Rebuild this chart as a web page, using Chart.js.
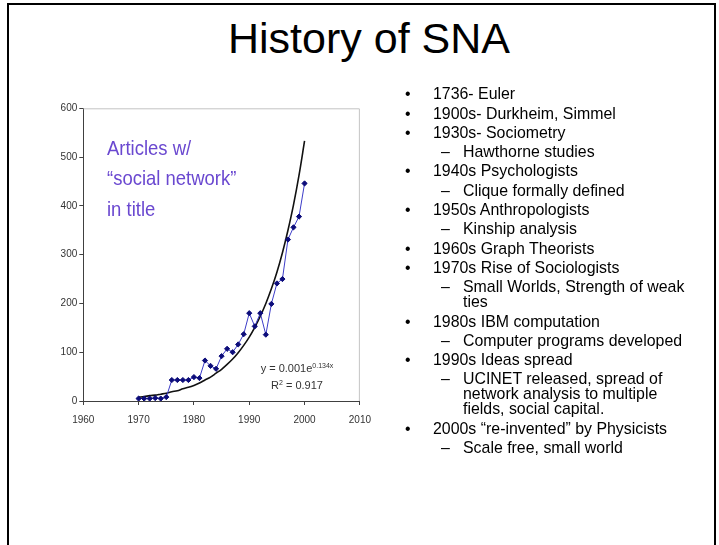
<!DOCTYPE html>
<html lang="en">
<head>
    <meta charset="UTF-8">
    <title>History of SNA</title>
    <script src="https://cdn.jsdelivr.net/npm/chart.js"></script>
    <style>
        body {
            margin: 0;
            width: 719px;
            height: 545px;
            background: #fff;
            font-family: "Liberation Sans", Arial, sans-serif;
            color: #000;
            overflow: hidden;
            position: relative;
        }
        .frame {
            position: absolute;
            left: 7px;
            top: 3px;
            width: 705px;
            height: 560px;
            border: 2px solid #000;
            border-bottom: none;
        }
        h1 {
            position: absolute;
            left: 0;
            width: 738px;
            top: 17px;
            margin: 0;
            font-size: 43px;
            line-height: 43px;
            font-weight: normal;
            text-align: center;
        }
        #chartBox {
            position: absolute;
            left: 30px;
            top: 98px;
            width: 350px;
            height: 340px;
        }
        .note {
            position: absolute;
            left: 107px;
            top: 132.5px;
            color: #6a48d0;
            font-size: 21px;
            line-height: 30.5px;
            transform: scaleX(0.88);
            transform-origin: left top;
            white-space: nowrap;
        }
        .eq {
            position: absolute;
            left: 247px;
            width: 100px;
            top: 360px;
            text-align: center;
            font-size: 11px;
            line-height: 17px;
            color: #333;
        }
        .eq sup { font-size: 7px; line-height: 0; vertical-align: 4px; }
        .bullets {
            position: absolute;
            left: 0;
            top: 82px;
            font-size: 15.9px;
            line-height: 15px;
        }
        .bullets div {
            position: relative;
            margin-top: 4.3px;
            white-space: nowrap;
        }
        .bullets .l1 { padding-left: 433px; }
        .bullets .l2 { padding-left: 463px; }
        .bullets .l1::before { content: "\2022"; position: absolute; left: 405px; }
        .bullets .l2::before { content: "\2013"; position: absolute; left: 441px; }
    </style>
</head>
<body>
    <div class="frame"></div>
    <h1>History of SNA</h1>

    <div id="chartBox"><canvas id="snaChart" width="350" height="340"></canvas></div>

    <div class="note">Articles w/<br>“social network”<br>in title</div>
    <div class="eq">y = 0.001e<sup>0.134x</sup><br>R<sup>2</sup> = 0.917</div>

    <div class="bullets">
        <div class="l1">1736- Euler</div>
        <div class="l1">1900s- Durkheim, Simmel</div>
        <div class="l1">1930s- Sociometry</div>
        <div class="l2">Hawthorne studies</div>
        <div class="l1">1940s Psychologists</div>
        <div class="l2">Clique formally defined</div>
        <div class="l1">1950s Anthropologists</div>
        <div class="l2">Kinship analysis</div>
        <div class="l1">1960s Graph Theorists</div>
        <div class="l1">1970s Rise of Sociologists</div>
        <div class="l2">Small Worlds, Strength of weak<br>ties</div>
        <div class="l1">1980s IBM computation</div>
        <div class="l2">Computer programs developed</div>
        <div class="l1">1990s Ideas spread</div>
        <div class="l2">UCINET released, spread of<br>network analysis to multiple<br>fields, social capital.</div>
        <div class="l1">2000s “re-invented” by Physicists</div>
        <div class="l2">Scale free, small world</div>
    </div>

    <script>
        // articles per year with "social network" in the title
        const years = [1970, 1971, 1972, 1973, 1974, 1975, 1976, 1977, 1978, 1979,
                       1980, 1981, 1982, 1983, 1984, 1985, 1986, 1987, 1988, 1989,
                       1990, 1991, 1992, 1993, 1994, 1995, 1996, 1997, 1998, 1999, 2000];
        const articles = [5, 5, 5, 6, 5, 8, 43, 43, 43, 43,
                          49, 47, 83, 72, 66, 92, 107, 100, 116, 137,
                          180, 153, 180, 136, 199, 241, 250, 331, 356, 378, 446];
        // exponential trend line as drawn on the slide
        const trend = [8, 9, 11, 12, 14, 16, 19, 21, 25, 28,
                       32, 37, 43, 49, 57, 65, 75, 86, 99, 114,
                       131, 151, 174, 200, 230, 264, 304, 350, 402, 463, 533];
        const xTicks = [1960, 1970, 1980, 1990, 2000, 2010];
        const yTicks = [0, 100, 200, 300, 400, 500, 600];

        const tickFont = { family: 'Liberation Sans, Arial, sans-serif', size: 10 };

        // light grey frame on the top and right of the plot area
        const plotFrame = {
            id: 'plotFrame',
            beforeDatasetsDraw(chart) {
                const { ctx, chartArea: a } = chart;
                ctx.save();
                ctx.strokeStyle = '#c4c4c4';
                ctx.lineWidth = 1;
                ctx.beginPath();
                ctx.moveTo(a.left, a.top + 0.5);
                ctx.lineTo(a.right - 0.5, a.top + 0.5);
                ctx.lineTo(a.right - 0.5, a.bottom);
                ctx.stroke();
                ctx.restore();
            }
        };

        new Chart(document.getElementById('snaChart'), {
            type: 'line',
            data: {
                datasets: [
                    {
                        label: 'Articles',
                        data: years.map((y, i) => ({ x: y, y: articles[i] })),
                        borderColor: '#3c3cc8',
                        borderWidth: 1,
                        pointStyle: 'rectRot',
                        pointRadius: 2.6,
                        pointBackgroundColor: '#0c0c7a',
                        pointBorderColor: '#0c0c7a',
                        pointBorderWidth: 1,
                        tension: 0
                    },
                    {
                        label: 'Trend',
                        data: years.map((y, i) => ({ x: y, y: trend[i] })),
                        borderColor: '#111',
                        borderWidth: 1.6,
                        pointRadius: 0,
                        cubicInterpolationMode: 'monotone'
                    }
                ]
            },
            options: {
                responsive: false,
                animation: false,
                layout: { padding: { top: 10.3, right: 13.3, left: 0, bottom: 0 } },
                plugins: { legend: { display: false }, tooltip: { enabled: false } },
                scales: {
                    x: {
                        type: 'linear',
                        min: xTicks[0],
                        max: xTicks[xTicks.length - 1],
                        afterBuildTicks: s => { s.ticks = xTicks.map(v => ({ value: v })); },
                        afterFit: s => { s.height = 37; },
                        border: { color: '#404040', width: 1 },
                        grid: { drawOnChartArea: false, color: '#404040', tickLength: 4 },
                        ticks: { color: '#333', font: tickFont, padding: 9, maxRotation: 0, callback: v => String(v) }
                    },
                    y: {
                        min: yTicks[0],
                        max: yTicks[yTicks.length - 1],
                        afterBuildTicks: s => { s.ticks = yTicks.map(v => ({ value: v })); },
                        afterFit: s => { s.width = 53.3; },
                        border: { color: '#404040', width: 1 },
                        grid: { drawOnChartArea: false, color: '#404040', tickLength: 4 },
                        ticks: { color: '#333', font: tickFont, padding: 2, callback: v => String(v) }
                    }
                }
            },
            plugins: [plotFrame]
        });
    </script>
</body>
</html>
